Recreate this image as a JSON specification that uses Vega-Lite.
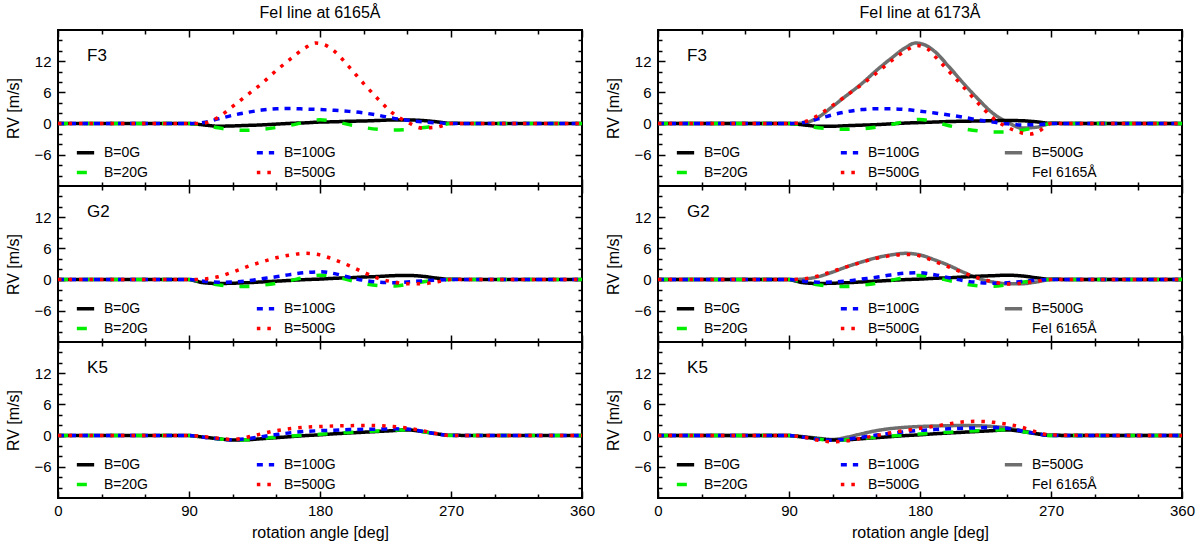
{
  "$schema": "https://vega.github.io/schema/vega-lite/v6.json",
  "description": "RV vs rotation angle for FeI 6165 and 6173 lines, F3/G2/K5 stars",
  "padding": {"left": 4, "top": 4, "right": 2, "bottom": 2},
  "datasets": {
    "rv": [
      {"star":"F3","line":"6165","b":"0G","deg":0,"rv":0},{"star":"F3","line":"6165","b":"0G","deg":90,"rv":0},{"star":"F3","line":"6165","b":"0G","deg":100,"rv":-0.25},{"star":"F3","line":"6165","b":"0G","deg":110,"rv":-0.5},{"star":"F3","line":"6165","b":"0G","deg":120,"rv":-0.45},{"star":"F3","line":"6165","b":"0G","deg":130,"rv":-0.35},{"star":"F3","line":"6165","b":"0G","deg":140,"rv":-0.25},{"star":"F3","line":"6165","b":"0G","deg":150,"rv":-0.1},{"star":"F3","line":"6165","b":"0G","deg":160,"rv":0.05},{"star":"F3","line":"6165","b":"0G","deg":170,"rv":0.15},{"star":"F3","line":"6165","b":"0G","deg":180,"rv":0.3},{"star":"F3","line":"6165","b":"0G","deg":190,"rv":0.35},{"star":"F3","line":"6165","b":"0G","deg":200,"rv":0.45},{"star":"F3","line":"6165","b":"0G","deg":210,"rv":0.5},{"star":"F3","line":"6165","b":"0G","deg":220,"rv":0.6},{"star":"F3","line":"6165","b":"0G","deg":230,"rv":0.7},{"star":"F3","line":"6165","b":"0G","deg":240,"rv":0.7},{"star":"F3","line":"6165","b":"0G","deg":250,"rv":0.6},{"star":"F3","line":"6165","b":"0G","deg":260,"rv":0.35},{"star":"F3","line":"6165","b":"0G","deg":270,"rv":0.05},{"star":"F3","line":"6165","b":"0G","deg":360,"rv":0},
      {"star":"F3","line":"6165","b":"20G","deg":0,"rv":0},{"star":"F3","line":"6165","b":"20G","deg":90,"rv":0},{"star":"F3","line":"6165","b":"20G","deg":100,"rv":-0.3},{"star":"F3","line":"6165","b":"20G","deg":110,"rv":-0.8},{"star":"F3","line":"6165","b":"20G","deg":120,"rv":-1.2},{"star":"F3","line":"6165","b":"20G","deg":130,"rv":-1.3},{"star":"F3","line":"6165","b":"20G","deg":140,"rv":-1.1},{"star":"F3","line":"6165","b":"20G","deg":150,"rv":-0.75},{"star":"F3","line":"6165","b":"20G","deg":160,"rv":-0.3},{"star":"F3","line":"6165","b":"20G","deg":170,"rv":0.3},{"star":"F3","line":"6165","b":"20G","deg":180,"rv":0.75},{"star":"F3","line":"6165","b":"20G","deg":190,"rv":0.4},{"star":"F3","line":"6165","b":"20G","deg":200,"rv":-0.2},{"star":"F3","line":"6165","b":"20G","deg":210,"rv":-0.75},{"star":"F3","line":"6165","b":"20G","deg":220,"rv":-1.1},{"star":"F3","line":"6165","b":"20G","deg":230,"rv":-1.25},{"star":"F3","line":"6165","b":"20G","deg":240,"rv":-1.15},{"star":"F3","line":"6165","b":"20G","deg":250,"rv":-0.8},{"star":"F3","line":"6165","b":"20G","deg":260,"rv":-0.45},{"star":"F3","line":"6165","b":"20G","deg":270,"rv":0},{"star":"F3","line":"6165","b":"20G","deg":360,"rv":0},
      {"star":"F3","line":"6165","b":"100G","deg":0,"rv":0},{"star":"F3","line":"6165","b":"100G","deg":90,"rv":0},{"star":"F3","line":"6165","b":"100G","deg":100,"rv":0.2},{"star":"F3","line":"6165","b":"100G","deg":110,"rv":0.9},{"star":"F3","line":"6165","b":"100G","deg":120,"rv":1.6},{"star":"F3","line":"6165","b":"100G","deg":130,"rv":2.15},{"star":"F3","line":"6165","b":"100G","deg":140,"rv":2.6},{"star":"F3","line":"6165","b":"100G","deg":150,"rv":2.85},{"star":"F3","line":"6165","b":"100G","deg":160,"rv":2.9},{"star":"F3","line":"6165","b":"100G","deg":170,"rv":2.8},{"star":"F3","line":"6165","b":"100G","deg":180,"rv":2.7},{"star":"F3","line":"6165","b":"100G","deg":190,"rv":2.55},{"star":"F3","line":"6165","b":"100G","deg":200,"rv":2.35},{"star":"F3","line":"6165","b":"100G","deg":210,"rv":2.05},{"star":"F3","line":"6165","b":"100G","deg":220,"rv":1.6},{"star":"F3","line":"6165","b":"100G","deg":230,"rv":1.05},{"star":"F3","line":"6165","b":"100G","deg":240,"rv":0.65},{"star":"F3","line":"6165","b":"100G","deg":250,"rv":0.35},{"star":"F3","line":"6165","b":"100G","deg":260,"rv":0.15},{"star":"F3","line":"6165","b":"100G","deg":270,"rv":0},{"star":"F3","line":"6165","b":"100G","deg":360,"rv":0},
      {"star":"F3","line":"6165","b":"500G","deg":0,"rv":0},{"star":"F3","line":"6165","b":"500G","deg":90,"rv":0},{"star":"F3","line":"6165","b":"500G","deg":100,"rv":0.1},{"star":"F3","line":"6165","b":"500G","deg":110,"rv":1.2},{"star":"F3","line":"6165","b":"500G","deg":120,"rv":3.3},{"star":"F3","line":"6165","b":"500G","deg":130,"rv":5.5},{"star":"F3","line":"6165","b":"500G","deg":140,"rv":7.7},{"star":"F3","line":"6165","b":"500G","deg":150,"rv":10.2},{"star":"F3","line":"6165","b":"500G","deg":160,"rv":12.5},{"star":"F3","line":"6165","b":"500G","deg":170,"rv":14.6},{"star":"F3","line":"6165","b":"500G","deg":177,"rv":15.5},{"star":"F3","line":"6165","b":"500G","deg":185,"rv":14.9},{"star":"F3","line":"6165","b":"500G","deg":190,"rv":13.9},{"star":"F3","line":"6165","b":"500G","deg":200,"rv":10.9},{"star":"F3","line":"6165","b":"500G","deg":210,"rv":7.7},{"star":"F3","line":"6165","b":"500G","deg":220,"rv":4.7},{"star":"F3","line":"6165","b":"500G","deg":230,"rv":2.0},{"star":"F3","line":"6165","b":"500G","deg":240,"rv":0.3},{"star":"F3","line":"6165","b":"500G","deg":250,"rv":-0.85},{"star":"F3","line":"6165","b":"500G","deg":260,"rv":-0.7},{"star":"F3","line":"6165","b":"500G","deg":270,"rv":0},{"star":"F3","line":"6165","b":"500G","deg":360,"rv":0},

      {"star":"F3","line":"6173","b":"0G","deg":0,"rv":0},{"star":"F3","line":"6173","b":"0G","deg":90,"rv":0},{"star":"F3","line":"6173","b":"0G","deg":100,"rv":-0.25},{"star":"F3","line":"6173","b":"0G","deg":110,"rv":-0.5},{"star":"F3","line":"6173","b":"0G","deg":120,"rv":-0.5},{"star":"F3","line":"6173","b":"0G","deg":130,"rv":-0.4},{"star":"F3","line":"6173","b":"0G","deg":140,"rv":-0.3},{"star":"F3","line":"6173","b":"0G","deg":150,"rv":-0.2},{"star":"F3","line":"6173","b":"0G","deg":160,"rv":-0.05},{"star":"F3","line":"6173","b":"0G","deg":170,"rv":0.1},{"star":"F3","line":"6173","b":"0G","deg":180,"rv":0.2},{"star":"F3","line":"6173","b":"0G","deg":190,"rv":0.3},{"star":"F3","line":"6173","b":"0G","deg":200,"rv":0.4},{"star":"F3","line":"6173","b":"0G","deg":210,"rv":0.45},{"star":"F3","line":"6173","b":"0G","deg":220,"rv":0.5},{"star":"F3","line":"6173","b":"0G","deg":230,"rv":0.55},{"star":"F3","line":"6173","b":"0G","deg":240,"rv":0.6},{"star":"F3","line":"6173","b":"0G","deg":250,"rv":0.55},{"star":"F3","line":"6173","b":"0G","deg":260,"rv":0.35},{"star":"F3","line":"6173","b":"0G","deg":270,"rv":0.05},{"star":"F3","line":"6173","b":"0G","deg":360,"rv":0},
      {"star":"F3","line":"6173","b":"20G","deg":0,"rv":0},{"star":"F3","line":"6173","b":"20G","deg":90,"rv":0},{"star":"F3","line":"6173","b":"20G","deg":100,"rv":-0.3},{"star":"F3","line":"6173","b":"20G","deg":110,"rv":-0.8},{"star":"F3","line":"6173","b":"20G","deg":120,"rv":-1.0},{"star":"F3","line":"6173","b":"20G","deg":130,"rv":-1.1},{"star":"F3","line":"6173","b":"20G","deg":140,"rv":-1.0},{"star":"F3","line":"6173","b":"20G","deg":150,"rv":-0.7},{"star":"F3","line":"6173","b":"20G","deg":160,"rv":-0.2},{"star":"F3","line":"6173","b":"20G","deg":170,"rv":0.4},{"star":"F3","line":"6173","b":"20G","deg":180,"rv":0.8},{"star":"F3","line":"6173","b":"20G","deg":190,"rv":0.3},{"star":"F3","line":"6173","b":"20G","deg":200,"rv":-0.4},{"star":"F3","line":"6173","b":"20G","deg":210,"rv":-1.0},{"star":"F3","line":"6173","b":"20G","deg":220,"rv":-1.4},{"star":"F3","line":"6173","b":"20G","deg":230,"rv":-1.6},{"star":"F3","line":"6173","b":"20G","deg":240,"rv":-1.6},{"star":"F3","line":"6173","b":"20G","deg":250,"rv":-1.3},{"star":"F3","line":"6173","b":"20G","deg":260,"rv":-0.7},{"star":"F3","line":"6173","b":"20G","deg":270,"rv":0},{"star":"F3","line":"6173","b":"20G","deg":360,"rv":0},
      {"star":"F3","line":"6173","b":"100G","deg":0,"rv":0},{"star":"F3","line":"6173","b":"100G","deg":90,"rv":0},{"star":"F3","line":"6173","b":"100G","deg":100,"rv":0.2},{"star":"F3","line":"6173","b":"100G","deg":110,"rv":0.9},{"star":"F3","line":"6173","b":"100G","deg":120,"rv":1.7},{"star":"F3","line":"6173","b":"100G","deg":130,"rv":2.3},{"star":"F3","line":"6173","b":"100G","deg":140,"rv":2.7},{"star":"F3","line":"6173","b":"100G","deg":150,"rv":2.85},{"star":"F3","line":"6173","b":"100G","deg":160,"rv":2.85},{"star":"F3","line":"6173","b":"100G","deg":170,"rv":2.7},{"star":"F3","line":"6173","b":"100G","deg":180,"rv":2.4},{"star":"F3","line":"6173","b":"100G","deg":190,"rv":2.05},{"star":"F3","line":"6173","b":"100G","deg":200,"rv":1.65},{"star":"F3","line":"6173","b":"100G","deg":210,"rv":1.2},{"star":"F3","line":"6173","b":"100G","deg":220,"rv":0.7},{"star":"F3","line":"6173","b":"100G","deg":230,"rv":0.3},{"star":"F3","line":"6173","b":"100G","deg":240,"rv":-0.05},{"star":"F3","line":"6173","b":"100G","deg":250,"rv":-0.25},{"star":"F3","line":"6173","b":"100G","deg":260,"rv":-0.2},{"star":"F3","line":"6173","b":"100G","deg":270,"rv":0},{"star":"F3","line":"6173","b":"100G","deg":360,"rv":0},
      {"star":"F3","line":"6173","b":"500G","deg":0,"rv":0},{"star":"F3","line":"6173","b":"500G","deg":90,"rv":0},{"star":"F3","line":"6173","b":"500G","deg":100,"rv":0.3},{"star":"F3","line":"6173","b":"500G","deg":110,"rv":1.6},{"star":"F3","line":"6173","b":"500G","deg":120,"rv":3.5},{"star":"F3","line":"6173","b":"500G","deg":130,"rv":5.5},{"star":"F3","line":"6173","b":"500G","deg":140,"rv":7.5},{"star":"F3","line":"6173","b":"500G","deg":150,"rv":9.7},{"star":"F3","line":"6173","b":"500G","deg":160,"rv":12.0},{"star":"F3","line":"6173","b":"500G","deg":170,"rv":14.0},{"star":"F3","line":"6173","b":"500G","deg":178,"rv":15.0},{"star":"F3","line":"6173","b":"500G","deg":185,"rv":14.4},{"star":"F3","line":"6173","b":"500G","deg":190,"rv":13.0},{"star":"F3","line":"6173","b":"500G","deg":200,"rv":10.0},{"star":"F3","line":"6173","b":"500G","deg":210,"rv":7.0},{"star":"F3","line":"6173","b":"500G","deg":220,"rv":3.9},{"star":"F3","line":"6173","b":"500G","deg":230,"rv":1.1},{"star":"F3","line":"6173","b":"500G","deg":240,"rv":-0.7},{"star":"F3","line":"6173","b":"500G","deg":250,"rv":-1.8},{"star":"F3","line":"6173","b":"500G","deg":256,"rv":-2.0},{"star":"F3","line":"6173","b":"500G","deg":262,"rv":-1.4},{"star":"F3","line":"6173","b":"500G","deg":270,"rv":0},{"star":"F3","line":"6173","b":"500G","deg":360,"rv":0},

      {"star":"G2","line":"6165","b":"0G","deg":0,"rv":0},{"star":"G2","line":"6165","b":"0G","deg":90,"rv":0},{"star":"G2","line":"6165","b":"0G","deg":95,"rv":-0.3},{"star":"G2","line":"6165","b":"0G","deg":100,"rv":-0.6},{"star":"G2","line":"6165","b":"0G","deg":110,"rv":-0.75},{"star":"G2","line":"6165","b":"0G","deg":120,"rv":-0.7},{"star":"G2","line":"6165","b":"0G","deg":130,"rv":-0.6},{"star":"G2","line":"6165","b":"0G","deg":140,"rv":-0.45},{"star":"G2","line":"6165","b":"0G","deg":150,"rv":-0.3},{"star":"G2","line":"6165","b":"0G","deg":160,"rv":-0.15},{"star":"G2","line":"6165","b":"0G","deg":170,"rv":0},{"star":"G2","line":"6165","b":"0G","deg":180,"rv":0.1},{"star":"G2","line":"6165","b":"0G","deg":190,"rv":0.25},{"star":"G2","line":"6165","b":"0G","deg":200,"rv":0.35},{"star":"G2","line":"6165","b":"0G","deg":210,"rv":0.5},{"star":"G2","line":"6165","b":"0G","deg":220,"rv":0.6},{"star":"G2","line":"6165","b":"0G","deg":230,"rv":0.75},{"star":"G2","line":"6165","b":"0G","deg":240,"rv":0.8},{"star":"G2","line":"6165","b":"0G","deg":250,"rv":0.65},{"star":"G2","line":"6165","b":"0G","deg":260,"rv":0.3},{"star":"G2","line":"6165","b":"0G","deg":270,"rv":0.05},{"star":"G2","line":"6165","b":"0G","deg":360,"rv":0},
      {"star":"G2","line":"6165","b":"20G","deg":0,"rv":0},{"star":"G2","line":"6165","b":"20G","deg":90,"rv":0},{"star":"G2","line":"6165","b":"20G","deg":100,"rv":-0.5},{"star":"G2","line":"6165","b":"20G","deg":110,"rv":-1.0},{"star":"G2","line":"6165","b":"20G","deg":120,"rv":-1.3},{"star":"G2","line":"6165","b":"20G","deg":130,"rv":-1.35},{"star":"G2","line":"6165","b":"20G","deg":140,"rv":-1.1},{"star":"G2","line":"6165","b":"20G","deg":150,"rv":-0.7},{"star":"G2","line":"6165","b":"20G","deg":160,"rv":-0.15},{"star":"G2","line":"6165","b":"20G","deg":170,"rv":0.45},{"star":"G2","line":"6165","b":"20G","deg":180,"rv":0.85},{"star":"G2","line":"6165","b":"20G","deg":190,"rv":0.55},{"star":"G2","line":"6165","b":"20G","deg":200,"rv":-0.1},{"star":"G2","line":"6165","b":"20G","deg":210,"rv":-0.75},{"star":"G2","line":"6165","b":"20G","deg":220,"rv":-1.15},{"star":"G2","line":"6165","b":"20G","deg":230,"rv":-1.25},{"star":"G2","line":"6165","b":"20G","deg":240,"rv":-0.9},{"star":"G2","line":"6165","b":"20G","deg":250,"rv":-0.45},{"star":"G2","line":"6165","b":"20G","deg":260,"rv":-0.15},{"star":"G2","line":"6165","b":"20G","deg":270,"rv":0},{"star":"G2","line":"6165","b":"20G","deg":360,"rv":0},
      {"star":"G2","line":"6165","b":"100G","deg":0,"rv":0},{"star":"G2","line":"6165","b":"100G","deg":90,"rv":0},{"star":"G2","line":"6165","b":"100G","deg":100,"rv":-0.3},{"star":"G2","line":"6165","b":"100G","deg":110,"rv":-0.5},{"star":"G2","line":"6165","b":"100G","deg":120,"rv":-0.45},{"star":"G2","line":"6165","b":"100G","deg":130,"rv":-0.25},{"star":"G2","line":"6165","b":"100G","deg":140,"rv":0.15},{"star":"G2","line":"6165","b":"100G","deg":150,"rv":0.55},{"star":"G2","line":"6165","b":"100G","deg":160,"rv":1.0},{"star":"G2","line":"6165","b":"100G","deg":170,"rv":1.35},{"star":"G2","line":"6165","b":"100G","deg":180,"rv":1.5},{"star":"G2","line":"6165","b":"100G","deg":190,"rv":1.15},{"star":"G2","line":"6165","b":"100G","deg":200,"rv":0.45},{"star":"G2","line":"6165","b":"100G","deg":210,"rv":-0.15},{"star":"G2","line":"6165","b":"100G","deg":220,"rv":-0.5},{"star":"G2","line":"6165","b":"100G","deg":230,"rv":-0.6},{"star":"G2","line":"6165","b":"100G","deg":240,"rv":-0.45},{"star":"G2","line":"6165","b":"100G","deg":250,"rv":-0.25},{"star":"G2","line":"6165","b":"100G","deg":260,"rv":-0.1},{"star":"G2","line":"6165","b":"100G","deg":270,"rv":0},{"star":"G2","line":"6165","b":"100G","deg":360,"rv":0},
      {"star":"G2","line":"6165","b":"500G","deg":0,"rv":0},{"star":"G2","line":"6165","b":"500G","deg":90,"rv":0},{"star":"G2","line":"6165","b":"500G","deg":100,"rv":0.1},{"star":"G2","line":"6165","b":"500G","deg":110,"rv":0.55},{"star":"G2","line":"6165","b":"500G","deg":120,"rv":1.45},{"star":"G2","line":"6165","b":"500G","deg":130,"rv":2.5},{"star":"G2","line":"6165","b":"500G","deg":140,"rv":3.4},{"star":"G2","line":"6165","b":"500G","deg":150,"rv":4.2},{"star":"G2","line":"6165","b":"500G","deg":160,"rv":4.75},{"star":"G2","line":"6165","b":"500G","deg":170,"rv":5.05},{"star":"G2","line":"6165","b":"500G","deg":180,"rv":4.75},{"star":"G2","line":"6165","b":"500G","deg":190,"rv":3.8},{"star":"G2","line":"6165","b":"500G","deg":200,"rv":2.7},{"star":"G2","line":"6165","b":"500G","deg":210,"rv":1.4},{"star":"G2","line":"6165","b":"500G","deg":220,"rv":0.25},{"star":"G2","line":"6165","b":"500G","deg":230,"rv":-0.45},{"star":"G2","line":"6165","b":"500G","deg":240,"rv":-0.8},{"star":"G2","line":"6165","b":"500G","deg":250,"rv":-0.8},{"star":"G2","line":"6165","b":"500G","deg":260,"rv":-0.45},{"star":"G2","line":"6165","b":"500G","deg":270,"rv":0},{"star":"G2","line":"6165","b":"500G","deg":360,"rv":0},

      {"star":"G2","line":"6173","b":"0G","deg":0,"rv":0},{"star":"G2","line":"6173","b":"0G","deg":90,"rv":0},{"star":"G2","line":"6173","b":"0G","deg":95,"rv":-0.3},{"star":"G2","line":"6173","b":"0G","deg":100,"rv":-0.6},{"star":"G2","line":"6173","b":"0G","deg":110,"rv":-0.75},{"star":"G2","line":"6173","b":"0G","deg":120,"rv":-0.7},{"star":"G2","line":"6173","b":"0G","deg":130,"rv":-0.6},{"star":"G2","line":"6173","b":"0G","deg":140,"rv":-0.45},{"star":"G2","line":"6173","b":"0G","deg":150,"rv":-0.3},{"star":"G2","line":"6173","b":"0G","deg":160,"rv":-0.15},{"star":"G2","line":"6173","b":"0G","deg":170,"rv":0},{"star":"G2","line":"6173","b":"0G","deg":180,"rv":0.1},{"star":"G2","line":"6173","b":"0G","deg":190,"rv":0.25},{"star":"G2","line":"6173","b":"0G","deg":200,"rv":0.35},{"star":"G2","line":"6173","b":"0G","deg":210,"rv":0.5},{"star":"G2","line":"6173","b":"0G","deg":220,"rv":0.65},{"star":"G2","line":"6173","b":"0G","deg":230,"rv":0.75},{"star":"G2","line":"6173","b":"0G","deg":240,"rv":0.85},{"star":"G2","line":"6173","b":"0G","deg":250,"rv":0.7},{"star":"G2","line":"6173","b":"0G","deg":260,"rv":0.35},{"star":"G2","line":"6173","b":"0G","deg":270,"rv":0.05},{"star":"G2","line":"6173","b":"0G","deg":360,"rv":0},
      {"star":"G2","line":"6173","b":"20G","deg":0,"rv":0},{"star":"G2","line":"6173","b":"20G","deg":90,"rv":0},{"star":"G2","line":"6173","b":"20G","deg":100,"rv":-0.5},{"star":"G2","line":"6173","b":"20G","deg":110,"rv":-1.0},{"star":"G2","line":"6173","b":"20G","deg":120,"rv":-1.3},{"star":"G2","line":"6173","b":"20G","deg":130,"rv":-1.35},{"star":"G2","line":"6173","b":"20G","deg":140,"rv":-1.1},{"star":"G2","line":"6173","b":"20G","deg":150,"rv":-0.7},{"star":"G2","line":"6173","b":"20G","deg":160,"rv":-0.15},{"star":"G2","line":"6173","b":"20G","deg":170,"rv":0.45},{"star":"G2","line":"6173","b":"20G","deg":180,"rv":0.8},{"star":"G2","line":"6173","b":"20G","deg":190,"rv":0.45},{"star":"G2","line":"6173","b":"20G","deg":200,"rv":-0.2},{"star":"G2","line":"6173","b":"20G","deg":210,"rv":-0.8},{"star":"G2","line":"6173","b":"20G","deg":220,"rv":-1.2},{"star":"G2","line":"6173","b":"20G","deg":230,"rv":-1.3},{"star":"G2","line":"6173","b":"20G","deg":240,"rv":-1.0},{"star":"G2","line":"6173","b":"20G","deg":250,"rv":-0.5},{"star":"G2","line":"6173","b":"20G","deg":260,"rv":-0.15},{"star":"G2","line":"6173","b":"20G","deg":270,"rv":0},{"star":"G2","line":"6173","b":"20G","deg":360,"rv":0},
      {"star":"G2","line":"6173","b":"100G","deg":0,"rv":0},{"star":"G2","line":"6173","b":"100G","deg":90,"rv":0},{"star":"G2","line":"6173","b":"100G","deg":100,"rv":-0.3},{"star":"G2","line":"6173","b":"100G","deg":110,"rv":-0.5},{"star":"G2","line":"6173","b":"100G","deg":120,"rv":-0.45},{"star":"G2","line":"6173","b":"100G","deg":130,"rv":-0.25},{"star":"G2","line":"6173","b":"100G","deg":140,"rv":0.1},{"star":"G2","line":"6173","b":"100G","deg":150,"rv":0.45},{"star":"G2","line":"6173","b":"100G","deg":160,"rv":0.9},{"star":"G2","line":"6173","b":"100G","deg":170,"rv":1.25},{"star":"G2","line":"6173","b":"100G","deg":180,"rv":1.3},{"star":"G2","line":"6173","b":"100G","deg":190,"rv":0.95},{"star":"G2","line":"6173","b":"100G","deg":200,"rv":0.35},{"star":"G2","line":"6173","b":"100G","deg":210,"rv":-0.2},{"star":"G2","line":"6173","b":"100G","deg":220,"rv":-0.55},{"star":"G2","line":"6173","b":"100G","deg":230,"rv":-0.7},{"star":"G2","line":"6173","b":"100G","deg":240,"rv":-0.6},{"star":"G2","line":"6173","b":"100G","deg":250,"rv":-0.35},{"star":"G2","line":"6173","b":"100G","deg":260,"rv":-0.1},{"star":"G2","line":"6173","b":"100G","deg":270,"rv":0},{"star":"G2","line":"6173","b":"100G","deg":360,"rv":0},
      {"star":"G2","line":"6173","b":"500G","deg":0,"rv":0},{"star":"G2","line":"6173","b":"500G","deg":90,"rv":0},{"star":"G2","line":"6173","b":"500G","deg":100,"rv":0.15},{"star":"G2","line":"6173","b":"500G","deg":110,"rv":0.7},{"star":"G2","line":"6173","b":"500G","deg":120,"rv":1.6},{"star":"G2","line":"6173","b":"500G","deg":130,"rv":2.5},{"star":"G2","line":"6173","b":"500G","deg":140,"rv":3.35},{"star":"G2","line":"6173","b":"500G","deg":150,"rv":4.1},{"star":"G2","line":"6173","b":"500G","deg":160,"rv":4.6},{"star":"G2","line":"6173","b":"500G","deg":170,"rv":4.85},{"star":"G2","line":"6173","b":"500G","deg":180,"rv":4.55},{"star":"G2","line":"6173","b":"500G","deg":190,"rv":3.5},{"star":"G2","line":"6173","b":"500G","deg":200,"rv":2.4},{"star":"G2","line":"6173","b":"500G","deg":210,"rv":1.3},{"star":"G2","line":"6173","b":"500G","deg":220,"rv":0.3},{"star":"G2","line":"6173","b":"500G","deg":230,"rv":-0.4},{"star":"G2","line":"6173","b":"500G","deg":240,"rv":-0.85},{"star":"G2","line":"6173","b":"500G","deg":250,"rv":-0.7},{"star":"G2","line":"6173","b":"500G","deg":260,"rv":-0.3},{"star":"G2","line":"6173","b":"500G","deg":270,"rv":0},{"star":"G2","line":"6173","b":"500G","deg":360,"rv":0},

      {"star":"K5","line":"6165","b":"0G","deg":0,"rv":0},{"star":"K5","line":"6165","b":"0G","deg":90,"rv":0},{"star":"K5","line":"6165","b":"0G","deg":100,"rv":-0.3},{"star":"K5","line":"6165","b":"0G","deg":110,"rv":-0.6},{"star":"K5","line":"6165","b":"0G","deg":120,"rv":-0.85},{"star":"K5","line":"6165","b":"0G","deg":130,"rv":-0.8},{"star":"K5","line":"6165","b":"0G","deg":140,"rv":-0.6},{"star":"K5","line":"6165","b":"0G","deg":150,"rv":-0.4},{"star":"K5","line":"6165","b":"0G","deg":160,"rv":-0.2},{"star":"K5","line":"6165","b":"0G","deg":170,"rv":0},{"star":"K5","line":"6165","b":"0G","deg":180,"rv":0.15},{"star":"K5","line":"6165","b":"0G","deg":190,"rv":0.35},{"star":"K5","line":"6165","b":"0G","deg":200,"rv":0.5},{"star":"K5","line":"6165","b":"0G","deg":210,"rv":0.65},{"star":"K5","line":"6165","b":"0G","deg":220,"rv":0.8},{"star":"K5","line":"6165","b":"0G","deg":230,"rv":0.95},{"star":"K5","line":"6165","b":"0G","deg":240,"rv":1.1},{"star":"K5","line":"6165","b":"0G","deg":250,"rv":0.8},{"star":"K5","line":"6165","b":"0G","deg":260,"rv":0.35},{"star":"K5","line":"6165","b":"0G","deg":270,"rv":0.05},{"star":"K5","line":"6165","b":"0G","deg":360,"rv":0},
      {"star":"K5","line":"6165","b":"20G","deg":0,"rv":0},{"star":"K5","line":"6165","b":"20G","deg":90,"rv":0},{"star":"K5","line":"6165","b":"20G","deg":100,"rv":-0.3},{"star":"K5","line":"6165","b":"20G","deg":110,"rv":-0.6},{"star":"K5","line":"6165","b":"20G","deg":120,"rv":-0.85},{"star":"K5","line":"6165","b":"20G","deg":130,"rv":-0.8},{"star":"K5","line":"6165","b":"20G","deg":140,"rv":-0.55},{"star":"K5","line":"6165","b":"20G","deg":150,"rv":-0.3},{"star":"K5","line":"6165","b":"20G","deg":160,"rv":-0.1},{"star":"K5","line":"6165","b":"20G","deg":170,"rv":0.1},{"star":"K5","line":"6165","b":"20G","deg":180,"rv":0.25},{"star":"K5","line":"6165","b":"20G","deg":190,"rv":0.45},{"star":"K5","line":"6165","b":"20G","deg":200,"rv":0.6},{"star":"K5","line":"6165","b":"20G","deg":210,"rv":0.75},{"star":"K5","line":"6165","b":"20G","deg":220,"rv":0.9},{"star":"K5","line":"6165","b":"20G","deg":230,"rv":1.0},{"star":"K5","line":"6165","b":"20G","deg":240,"rv":1.15},{"star":"K5","line":"6165","b":"20G","deg":250,"rv":0.8},{"star":"K5","line":"6165","b":"20G","deg":260,"rv":0.35},{"star":"K5","line":"6165","b":"20G","deg":270,"rv":0},{"star":"K5","line":"6165","b":"20G","deg":360,"rv":0},
      {"star":"K5","line":"6165","b":"100G","deg":0,"rv":0},{"star":"K5","line":"6165","b":"100G","deg":90,"rv":0},{"star":"K5","line":"6165","b":"100G","deg":100,"rv":-0.3},{"star":"K5","line":"6165","b":"100G","deg":110,"rv":-0.6},{"star":"K5","line":"6165","b":"100G","deg":120,"rv":-0.8},{"star":"K5","line":"6165","b":"100G","deg":130,"rv":-0.6},{"star":"K5","line":"6165","b":"100G","deg":140,"rv":-0.2},{"star":"K5","line":"6165","b":"100G","deg":150,"rv":0.2},{"star":"K5","line":"6165","b":"100G","deg":160,"rv":0.55},{"star":"K5","line":"6165","b":"100G","deg":170,"rv":0.8},{"star":"K5","line":"6165","b":"100G","deg":180,"rv":0.95},{"star":"K5","line":"6165","b":"100G","deg":190,"rv":1.05},{"star":"K5","line":"6165","b":"100G","deg":200,"rv":1.15},{"star":"K5","line":"6165","b":"100G","deg":210,"rv":1.2},{"star":"K5","line":"6165","b":"100G","deg":220,"rv":1.25},{"star":"K5","line":"6165","b":"100G","deg":230,"rv":1.3},{"star":"K5","line":"6165","b":"100G","deg":240,"rv":1.25},{"star":"K5","line":"6165","b":"100G","deg":250,"rv":0.85},{"star":"K5","line":"6165","b":"100G","deg":260,"rv":0.35},{"star":"K5","line":"6165","b":"100G","deg":270,"rv":0},{"star":"K5","line":"6165","b":"100G","deg":360,"rv":0},
      {"star":"K5","line":"6165","b":"500G","deg":0,"rv":0},{"star":"K5","line":"6165","b":"500G","deg":90,"rv":0},{"star":"K5","line":"6165","b":"500G","deg":100,"rv":-0.2},{"star":"K5","line":"6165","b":"500G","deg":110,"rv":-0.5},{"star":"K5","line":"6165","b":"500G","deg":120,"rv":-0.75},{"star":"K5","line":"6165","b":"500G","deg":130,"rv":-0.3},{"star":"K5","line":"6165","b":"500G","deg":140,"rv":0.35},{"star":"K5","line":"6165","b":"500G","deg":150,"rv":0.95},{"star":"K5","line":"6165","b":"500G","deg":160,"rv":1.35},{"star":"K5","line":"6165","b":"500G","deg":170,"rv":1.6},{"star":"K5","line":"6165","b":"500G","deg":180,"rv":1.75},{"star":"K5","line":"6165","b":"500G","deg":190,"rv":1.85},{"star":"K5","line":"6165","b":"500G","deg":200,"rv":1.9},{"star":"K5","line":"6165","b":"500G","deg":210,"rv":1.95},{"star":"K5","line":"6165","b":"500G","deg":220,"rv":1.9},{"star":"K5","line":"6165","b":"500G","deg":230,"rv":1.75},{"star":"K5","line":"6165","b":"500G","deg":240,"rv":1.45},{"star":"K5","line":"6165","b":"500G","deg":250,"rv":0.95},{"star":"K5","line":"6165","b":"500G","deg":260,"rv":0.4},{"star":"K5","line":"6165","b":"500G","deg":270,"rv":0},{"star":"K5","line":"6165","b":"500G","deg":360,"rv":0},

      {"star":"K5","line":"6173","b":"0G","deg":0,"rv":0},{"star":"K5","line":"6173","b":"0G","deg":90,"rv":0},{"star":"K5","line":"6173","b":"0G","deg":100,"rv":-0.3},{"star":"K5","line":"6173","b":"0G","deg":110,"rv":-0.6},{"star":"K5","line":"6173","b":"0G","deg":120,"rv":-0.85},{"star":"K5","line":"6173","b":"0G","deg":130,"rv":-0.8},{"star":"K5","line":"6173","b":"0G","deg":140,"rv":-0.6},{"star":"K5","line":"6173","b":"0G","deg":150,"rv":-0.4},{"star":"K5","line":"6173","b":"0G","deg":160,"rv":-0.2},{"star":"K5","line":"6173","b":"0G","deg":170,"rv":0},{"star":"K5","line":"6173","b":"0G","deg":180,"rv":0.15},{"star":"K5","line":"6173","b":"0G","deg":190,"rv":0.35},{"star":"K5","line":"6173","b":"0G","deg":200,"rv":0.5},{"star":"K5","line":"6173","b":"0G","deg":210,"rv":0.65},{"star":"K5","line":"6173","b":"0G","deg":220,"rv":0.8},{"star":"K5","line":"6173","b":"0G","deg":230,"rv":0.95},{"star":"K5","line":"6173","b":"0G","deg":240,"rv":1.1},{"star":"K5","line":"6173","b":"0G","deg":250,"rv":0.8},{"star":"K5","line":"6173","b":"0G","deg":260,"rv":0.35},{"star":"K5","line":"6173","b":"0G","deg":270,"rv":0.05},{"star":"K5","line":"6173","b":"0G","deg":360,"rv":0},
      {"star":"K5","line":"6173","b":"20G","deg":0,"rv":0},{"star":"K5","line":"6173","b":"20G","deg":90,"rv":0},{"star":"K5","line":"6173","b":"20G","deg":100,"rv":-0.3},{"star":"K5","line":"6173","b":"20G","deg":110,"rv":-0.65},{"star":"K5","line":"6173","b":"20G","deg":120,"rv":-0.9},{"star":"K5","line":"6173","b":"20G","deg":130,"rv":-0.8},{"star":"K5","line":"6173","b":"20G","deg":140,"rv":-0.55},{"star":"K5","line":"6173","b":"20G","deg":150,"rv":-0.3},{"star":"K5","line":"6173","b":"20G","deg":160,"rv":-0.1},{"star":"K5","line":"6173","b":"20G","deg":170,"rv":0.1},{"star":"K5","line":"6173","b":"20G","deg":180,"rv":0.3},{"star":"K5","line":"6173","b":"20G","deg":190,"rv":0.5},{"star":"K5","line":"6173","b":"20G","deg":200,"rv":0.65},{"star":"K5","line":"6173","b":"20G","deg":210,"rv":0.8},{"star":"K5","line":"6173","b":"20G","deg":220,"rv":0.95},{"star":"K5","line":"6173","b":"20G","deg":230,"rv":1.05},{"star":"K5","line":"6173","b":"20G","deg":240,"rv":1.15},{"star":"K5","line":"6173","b":"20G","deg":250,"rv":0.8},{"star":"K5","line":"6173","b":"20G","deg":260,"rv":0.35},{"star":"K5","line":"6173","b":"20G","deg":270,"rv":0},{"star":"K5","line":"6173","b":"20G","deg":360,"rv":0},
      {"star":"K5","line":"6173","b":"100G","deg":0,"rv":0},{"star":"K5","line":"6173","b":"100G","deg":90,"rv":0},{"star":"K5","line":"6173","b":"100G","deg":100,"rv":-0.3},{"star":"K5","line":"6173","b":"100G","deg":110,"rv":-0.7},{"star":"K5","line":"6173","b":"100G","deg":120,"rv":-0.9},{"star":"K5","line":"6173","b":"100G","deg":130,"rv":-0.7},{"star":"K5","line":"6173","b":"100G","deg":140,"rv":-0.3},{"star":"K5","line":"6173","b":"100G","deg":150,"rv":0.1},{"star":"K5","line":"6173","b":"100G","deg":160,"rv":0.45},{"star":"K5","line":"6173","b":"100G","deg":170,"rv":0.75},{"star":"K5","line":"6173","b":"100G","deg":180,"rv":1.0},{"star":"K5","line":"6173","b":"100G","deg":190,"rv":1.15},{"star":"K5","line":"6173","b":"100G","deg":200,"rv":1.3},{"star":"K5","line":"6173","b":"100G","deg":210,"rv":1.4},{"star":"K5","line":"6173","b":"100G","deg":220,"rv":1.5},{"star":"K5","line":"6173","b":"100G","deg":230,"rv":1.55},{"star":"K5","line":"6173","b":"100G","deg":240,"rv":1.4},{"star":"K5","line":"6173","b":"100G","deg":250,"rv":0.9},{"star":"K5","line":"6173","b":"100G","deg":260,"rv":0.4},{"star":"K5","line":"6173","b":"100G","deg":270,"rv":0},{"star":"K5","line":"6173","b":"100G","deg":360,"rv":0},
      {"star":"K5","line":"6173","b":"500G","deg":0,"rv":0},{"star":"K5","line":"6173","b":"500G","deg":90,"rv":0},{"star":"K5","line":"6173","b":"500G","deg":100,"rv":-0.3},{"star":"K5","line":"6173","b":"500G","deg":110,"rv":-0.9},{"star":"K5","line":"6173","b":"500G","deg":120,"rv":-1.2},{"star":"K5","line":"6173","b":"500G","deg":130,"rv":-1.0},{"star":"K5","line":"6173","b":"500G","deg":140,"rv":-0.5},{"star":"K5","line":"6173","b":"500G","deg":150,"rv":0},{"star":"K5","line":"6173","b":"500G","deg":160,"rv":0.55},{"star":"K5","line":"6173","b":"500G","deg":170,"rv":1.0},{"star":"K5","line":"6173","b":"500G","deg":180,"rv":1.4},{"star":"K5","line":"6173","b":"500G","deg":190,"rv":1.8},{"star":"K5","line":"6173","b":"500G","deg":200,"rv":2.25},{"star":"K5","line":"6173","b":"500G","deg":210,"rv":2.65},{"star":"K5","line":"6173","b":"500G","deg":218,"rv":2.75},{"star":"K5","line":"6173","b":"500G","deg":225,"rv":2.7},{"star":"K5","line":"6173","b":"500G","deg":232,"rv":2.5},{"star":"K5","line":"6173","b":"500G","deg":240,"rv":2.2},{"star":"K5","line":"6173","b":"500G","deg":250,"rv":1.6},{"star":"K5","line":"6173","b":"500G","deg":260,"rv":0.7},{"star":"K5","line":"6173","b":"500G","deg":270,"rv":0.1},{"star":"K5","line":"6173","b":"500G","deg":360,"rv":0}
    ]
  },
  "data": {"name": "rv"},
  "columns": 2,
  "bounds": "flush",
  "spacing": {"row": 0, "column": 76},
  "concat": [
    {
      "width": 524, "height": 156,
      "title": {"text": "FeI line at 6165Å"},
      "layer": [
        {"transform": [{"filter": "datum.star == 'F3' && datum.line == '6165' && datum.b == '0G'"}], "mark": {"type": "line", "interpolate": "monotone"},
         "encoding": {
          "x": {"field": "deg", "type": "quantitative", "scale": {"domain": [0, 360], "nice": false}, "axis": {"orient": "bottom", "values": [0, 90, 180, 270, 360], "tickSize": -7, "labels": false, "title": null}},
          "y": {"field": "rv", "type": "quantitative", "scale": {"domain": [-12, 18], "nice": false, "zero": false}, "axis": {"orient": "left", "values": [-6, 0, 6, 12], "tickSize": -7, "labelPadding": 14, "title": "RV [m/s]", "titlePadding": 12}},
          "color": {"field": "b", "type": "nominal", "scale": {"domain": ["0G", "20G", "100G", "500G"], "range": ["#000000", "#00ee00", "#0000ff", "#ff0000"]},
            "legend": {"title": null, "orient": "none", "legendX": 17, "legendY": 112, "columns": 2, "gridAlign": "all", "columnPadding": 93, "rowPadding": 2, "padding": 0, "symbolType": "stroke", "symbolSize": 300, "labelFontSize": 14, "labelOffset": 8, "labelExpr": "'B=' + datum.label"}},
          "strokeDash": {"field": "b", "type": "nominal", "scale": {"domain": ["0G", "20G", "100G", "500G"], "range": [[1, 0], [10, 16], [6, 6], [3.5, 7]]}, "legend": {"title": null}},
          "strokeWidth": {"field": "b", "type": "nominal", "scale": {"domain": ["0G", "20G", "100G", "500G"], "range": [3.5, 3.5, 3.5, 4]}, "legend": {"title": null}}
         }},
        {"transform": [{"filter": "datum.star == 'F3' && datum.line == '6165' && datum.b == '20G'"}], "mark": {"type": "line", "interpolate": "monotone"},
         "encoding": {
          "x": {"field": "deg", "type": "quantitative", "axis": {"orient": "top", "values": [0, 90, 180, 270, 360], "tickSize": -7, "labels": false, "title": null}},
          "y": {"field": "rv", "type": "quantitative", "axis": {"orient": "right", "values": [-6, 0, 6, 12], "tickSize": -7, "labels": false, "title": null}},
          "color": {"field": "b", "type": "nominal"}, "strokeDash": {"field": "b", "type": "nominal"}, "strokeWidth": {"field": "b", "type": "nominal"}
         }},
        {"transform": [{"filter": "datum.star == 'F3' && datum.line == '6165' && datum.b == '100G'"}], "mark": {"type": "line", "interpolate": "monotone"},
         "encoding": {
          "x": {"field": "deg", "type": "quantitative", "axis": {"orient": "bottom", "values": [30, 60, 120, 150, 210, 240, 300, 330], "tickSize": -4, "labels": false, "title": null}},
          "y": {"field": "rv", "type": "quantitative", "axis": {"orient": "left", "values": [-10, -8, -4, -2, 2, 4, 8, 10, 14, 16], "tickSize": -4, "labels": false, "title": null}},
          "color": {"field": "b", "type": "nominal"}, "strokeDash": {"field": "b", "type": "nominal"}, "strokeWidth": {"field": "b", "type": "nominal"}
         }},
        {"transform": [{"filter": "datum.star == 'F3' && datum.line == '6165' && datum.b == '500G'"}], "mark": {"type": "line", "interpolate": "monotone"},
         "encoding": {
          "x": {"field": "deg", "type": "quantitative", "axis": {"orient": "top", "values": [30, 60, 120, 150, 210, 240, 300, 330], "tickSize": -4, "labels": false, "title": null}},
          "y": {"field": "rv", "type": "quantitative", "axis": {"orient": "right", "values": [-10, -8, -4, -2, 2, 4, 8, 10, 14, 16], "tickSize": -4, "labels": false, "title": null}},
          "color": {"field": "b", "type": "nominal"}, "strokeDash": {"field": "b", "type": "nominal"}, "strokeWidth": {"field": "b", "type": "nominal"}
         }},
        {"transform": [{"filter": "datum.star == 'F3' && datum.line == '6165' && datum.b == '0G' && datum.deg == 0"}], "mark": {"type": "text", "align": "left", "baseline": "middle", "fontSize": 17},
         "encoding": {"x": {"datum": 20, "type": "quantitative", "axis": null}, "y": {"datum": 13, "type": "quantitative", "axis": null}, "text": {"field": "star"}}}
      ],
      "resolve": {"axis": {"x": "independent", "y": "independent"}}
    },
    {
      "width": 524, "height": 156,
      "title": {"text": "FeI line at 6173Å"},
      "layer": [
        {"transform": [{"filter": "datum.star == 'F3' && datum.line == '6165' && datum.b == '500G'"}], "mark": {"type": "line", "interpolate": "monotone"},
         "encoding": {
          "x": {"field": "deg", "type": "quantitative", "scale": {"domain": [0, 360], "nice": false}, "axis": null},
          "y": {"field": "rv", "type": "quantitative", "scale": {"domain": [-12, 18], "nice": false, "zero": false}, "axis": null},
          "color": {"datum": "500G_6165", "type": "nominal", "scale": {"domain": ["0G", "20G", "100G", "500G", "500G_6165", "note"], "range": ["#000000", "#00ee00", "#0000ff", "#ff0000", "#6e6e6e", "transparent"]},
            "legend": {"title": null, "orient": "none", "legendX": 17, "legendY": 112, "columns": 3, "gridAlign": "all", "columnPadding": 64, "rowPadding": 2, "padding": 0, "symbolType": "stroke", "symbolSize": 300, "labelFontSize": 14, "labelOffset": 8, "labelExpr": "datum.label == 'note' ? 'FeI 6165Å' : 'B=' + replace(datum.label, '_6165', '')"}},
          "strokeDash": {"datum": "500G_6165", "type": "nominal", "scale": {"domain": ["0G", "20G", "100G", "500G", "500G_6165", "note"], "range": [[1, 0], [10, 16], [6, 6], [3.5, 7], [1, 0], [1, 0]]}, "legend": {"title": null}},
          "strokeWidth": {"datum": "500G_6165", "type": "nominal", "scale": {"domain": ["0G", "20G", "100G", "500G", "500G_6165", "note"], "range": [3.5, 3.5, 3.5, 4, 2, 0]}, "legend": {"title": null}}
         }},
        {"transform": [{"filter": "datum.star == 'F3' && datum.line == '6173' && datum.b == '0G'"}], "mark": {"type": "line", "interpolate": "monotone"},
         "encoding": {
          "x": {"field": "deg", "type": "quantitative", "axis": {"orient": "bottom", "values": [0, 90, 180, 270, 360], "tickSize": -7, "labels": false, "title": null}},
          "y": {"field": "rv", "type": "quantitative", "axis": {"orient": "left", "values": [-6, 0, 6, 12], "tickSize": -7, "labelPadding": 14, "title": "RV [m/s]", "titlePadding": 12}},
          "color": {"field": "b", "type": "nominal", "legend": {"title": null}}, "strokeDash": {"field": "b", "type": "nominal", "legend": {"title": null}}, "strokeWidth": {"field": "b", "type": "nominal", "legend": {"title": null}}
         }},
        {"transform": [{"filter": "datum.star == 'F3' && datum.line == '6173' && datum.b == '20G'"}], "mark": {"type": "line", "interpolate": "monotone"},
         "encoding": {
          "x": {"field": "deg", "type": "quantitative", "axis": {"orient": "top", "values": [0, 90, 180, 270, 360], "tickSize": -7, "labels": false, "title": null}},
          "y": {"field": "rv", "type": "quantitative", "axis": {"orient": "right", "values": [-6, 0, 6, 12], "tickSize": -7, "labels": false, "title": null}},
          "color": {"field": "b", "type": "nominal"}, "strokeDash": {"field": "b", "type": "nominal"}, "strokeWidth": {"field": "b", "type": "nominal"}
         }},
        {"transform": [{"filter": "datum.star == 'F3' && datum.line == '6173' && datum.b == '100G'"}], "mark": {"type": "line", "interpolate": "monotone"},
         "encoding": {
          "x": {"field": "deg", "type": "quantitative", "axis": {"orient": "bottom", "values": [30, 60, 120, 150, 210, 240, 300, 330], "tickSize": -4, "labels": false, "title": null}},
          "y": {"field": "rv", "type": "quantitative", "axis": {"orient": "left", "values": [-10, -8, -4, -2, 2, 4, 8, 10, 14, 16], "tickSize": -4, "labels": false, "title": null}},
          "color": {"field": "b", "type": "nominal"}, "strokeDash": {"field": "b", "type": "nominal"}, "strokeWidth": {"field": "b", "type": "nominal"}
         }},
        {"transform": [{"filter": "datum.star == 'F3' && datum.line == '6173' && datum.b == '500G'"}], "mark": {"type": "line", "interpolate": "monotone"},
         "encoding": {
          "x": {"field": "deg", "type": "quantitative", "axis": {"orient": "top", "values": [30, 60, 120, 150, 210, 240, 300, 330], "tickSize": -4, "labels": false, "title": null}},
          "y": {"field": "rv", "type": "quantitative", "axis": {"orient": "right", "values": [-10, -8, -4, -2, 2, 4, 8, 10, 14, 16], "tickSize": -4, "labels": false, "title": null}},
          "color": {"field": "b", "type": "nominal"}, "strokeDash": {"field": "b", "type": "nominal"}, "strokeWidth": {"field": "b", "type": "nominal"}
         }},
        {"transform": [{"filter": "datum.star == 'F3' && datum.line == '6173' && datum.b == '0G' && datum.deg == 0"}], "mark": {"type": "text", "align": "left", "baseline": "middle", "fontSize": 17},
         "encoding": {"x": {"datum": 20, "type": "quantitative", "axis": null}, "y": {"datum": 13, "type": "quantitative", "axis": null}, "text": {"field": "star"}}}
      ],
      "resolve": {"axis": {"x": "independent", "y": "independent"}}
    },
    {
      "width": 524, "height": 156,
      "layer": [
        {"transform": [{"filter": "datum.star == 'G2' && datum.line == '6165' && datum.b == '0G'"}], "mark": {"type": "line", "interpolate": "monotone"},
         "encoding": {
          "x": {"field": "deg", "type": "quantitative", "scale": {"domain": [0, 360], "nice": false}, "axis": {"orient": "bottom", "values": [0, 90, 180, 270, 360], "tickSize": -7, "labels": false, "title": null}},
          "y": {"field": "rv", "type": "quantitative", "scale": {"domain": [-12, 18], "nice": false, "zero": false}, "axis": {"orient": "left", "values": [-6, 0, 6, 12], "tickSize": -7, "labelPadding": 14, "title": "RV [m/s]", "titlePadding": 12}},
          "color": {"field": "b", "type": "nominal", "scale": {"domain": ["0G", "20G", "100G", "500G"], "range": ["#000000", "#00ee00", "#0000ff", "#ff0000"]},
            "legend": {"title": null, "orient": "none", "legendX": 17, "legendY": 112, "columns": 2, "gridAlign": "all", "columnPadding": 93, "rowPadding": 2, "padding": 0, "symbolType": "stroke", "symbolSize": 300, "labelFontSize": 14, "labelOffset": 8, "labelExpr": "'B=' + datum.label"}},
          "strokeDash": {"field": "b", "type": "nominal", "scale": {"domain": ["0G", "20G", "100G", "500G"], "range": [[1, 0], [10, 16], [6, 6], [3.5, 7]]}, "legend": {"title": null}},
          "strokeWidth": {"field": "b", "type": "nominal", "scale": {"domain": ["0G", "20G", "100G", "500G"], "range": [3.5, 3.5, 3.5, 4]}, "legend": {"title": null}}
         }},
        {"transform": [{"filter": "datum.star == 'G2' && datum.line == '6165' && datum.b == '20G'"}], "mark": {"type": "line", "interpolate": "monotone"},
         "encoding": {
          "x": {"field": "deg", "type": "quantitative", "axis": {"orient": "top", "values": [0, 90, 180, 270, 360], "tickSize": -7, "labels": false, "title": null}},
          "y": {"field": "rv", "type": "quantitative", "axis": {"orient": "right", "values": [-6, 0, 6, 12], "tickSize": -7, "labels": false, "title": null}},
          "color": {"field": "b", "type": "nominal"}, "strokeDash": {"field": "b", "type": "nominal"}, "strokeWidth": {"field": "b", "type": "nominal"}
         }},
        {"transform": [{"filter": "datum.star == 'G2' && datum.line == '6165' && datum.b == '100G'"}], "mark": {"type": "line", "interpolate": "monotone"},
         "encoding": {
          "x": {"field": "deg", "type": "quantitative", "axis": {"orient": "bottom", "values": [30, 60, 120, 150, 210, 240, 300, 330], "tickSize": -4, "labels": false, "title": null}},
          "y": {"field": "rv", "type": "quantitative", "axis": {"orient": "left", "values": [-10, -8, -4, -2, 2, 4, 8, 10, 14, 16], "tickSize": -4, "labels": false, "title": null}},
          "color": {"field": "b", "type": "nominal"}, "strokeDash": {"field": "b", "type": "nominal"}, "strokeWidth": {"field": "b", "type": "nominal"}
         }},
        {"transform": [{"filter": "datum.star == 'G2' && datum.line == '6165' && datum.b == '500G'"}], "mark": {"type": "line", "interpolate": "monotone"},
         "encoding": {
          "x": {"field": "deg", "type": "quantitative", "axis": {"orient": "top", "values": [30, 60, 120, 150, 210, 240, 300, 330], "tickSize": -4, "labels": false, "title": null}},
          "y": {"field": "rv", "type": "quantitative", "axis": {"orient": "right", "values": [-10, -8, -4, -2, 2, 4, 8, 10, 14, 16], "tickSize": -4, "labels": false, "title": null}},
          "color": {"field": "b", "type": "nominal"}, "strokeDash": {"field": "b", "type": "nominal"}, "strokeWidth": {"field": "b", "type": "nominal"}
         }},
        {"transform": [{"filter": "datum.star == 'G2' && datum.line == '6165' && datum.b == '0G' && datum.deg == 0"}], "mark": {"type": "text", "align": "left", "baseline": "middle", "fontSize": 17},
         "encoding": {"x": {"datum": 20, "type": "quantitative", "axis": null}, "y": {"datum": 13, "type": "quantitative", "axis": null}, "text": {"field": "star"}}}
      ],
      "resolve": {"axis": {"x": "independent", "y": "independent"}}
    },
    {
      "width": 524, "height": 156,
      "layer": [
        {"transform": [{"filter": "datum.star == 'G2' && datum.line == '6165' && datum.b == '500G'"}], "mark": {"type": "line", "interpolate": "monotone"},
         "encoding": {
          "x": {"field": "deg", "type": "quantitative", "scale": {"domain": [0, 360], "nice": false}, "axis": null},
          "y": {"field": "rv", "type": "quantitative", "scale": {"domain": [-12, 18], "nice": false, "zero": false}, "axis": null},
          "color": {"datum": "500G_6165", "type": "nominal", "scale": {"domain": ["0G", "20G", "100G", "500G", "500G_6165", "note"], "range": ["#000000", "#00ee00", "#0000ff", "#ff0000", "#6e6e6e", "transparent"]},
            "legend": {"title": null, "orient": "none", "legendX": 17, "legendY": 112, "columns": 3, "gridAlign": "all", "columnPadding": 64, "rowPadding": 2, "padding": 0, "symbolType": "stroke", "symbolSize": 300, "labelFontSize": 14, "labelOffset": 8, "labelExpr": "datum.label == 'note' ? 'FeI 6165Å' : 'B=' + replace(datum.label, '_6165', '')"}},
          "strokeDash": {"datum": "500G_6165", "type": "nominal", "scale": {"domain": ["0G", "20G", "100G", "500G", "500G_6165", "note"], "range": [[1, 0], [10, 16], [6, 6], [3.5, 7], [1, 0], [1, 0]]}, "legend": {"title": null}},
          "strokeWidth": {"datum": "500G_6165", "type": "nominal", "scale": {"domain": ["0G", "20G", "100G", "500G", "500G_6165", "note"], "range": [3.5, 3.5, 3.5, 4, 2, 0]}, "legend": {"title": null}}
         }},
        {"transform": [{"filter": "datum.star == 'G2' && datum.line == '6173' && datum.b == '0G'"}], "mark": {"type": "line", "interpolate": "monotone"},
         "encoding": {
          "x": {"field": "deg", "type": "quantitative", "axis": {"orient": "bottom", "values": [0, 90, 180, 270, 360], "tickSize": -7, "labels": false, "title": null}},
          "y": {"field": "rv", "type": "quantitative", "axis": {"orient": "left", "values": [-6, 0, 6, 12], "tickSize": -7, "labelPadding": 14, "title": "RV [m/s]", "titlePadding": 12}},
          "color": {"field": "b", "type": "nominal", "legend": {"title": null}}, "strokeDash": {"field": "b", "type": "nominal", "legend": {"title": null}}, "strokeWidth": {"field": "b", "type": "nominal", "legend": {"title": null}}
         }},
        {"transform": [{"filter": "datum.star == 'G2' && datum.line == '6173' && datum.b == '20G'"}], "mark": {"type": "line", "interpolate": "monotone"},
         "encoding": {
          "x": {"field": "deg", "type": "quantitative", "axis": {"orient": "top", "values": [0, 90, 180, 270, 360], "tickSize": -7, "labels": false, "title": null}},
          "y": {"field": "rv", "type": "quantitative", "axis": {"orient": "right", "values": [-6, 0, 6, 12], "tickSize": -7, "labels": false, "title": null}},
          "color": {"field": "b", "type": "nominal"}, "strokeDash": {"field": "b", "type": "nominal"}, "strokeWidth": {"field": "b", "type": "nominal"}
         }},
        {"transform": [{"filter": "datum.star == 'G2' && datum.line == '6173' && datum.b == '100G'"}], "mark": {"type": "line", "interpolate": "monotone"},
         "encoding": {
          "x": {"field": "deg", "type": "quantitative", "axis": {"orient": "bottom", "values": [30, 60, 120, 150, 210, 240, 300, 330], "tickSize": -4, "labels": false, "title": null}},
          "y": {"field": "rv", "type": "quantitative", "axis": {"orient": "left", "values": [-10, -8, -4, -2, 2, 4, 8, 10, 14, 16], "tickSize": -4, "labels": false, "title": null}},
          "color": {"field": "b", "type": "nominal"}, "strokeDash": {"field": "b", "type": "nominal"}, "strokeWidth": {"field": "b", "type": "nominal"}
         }},
        {"transform": [{"filter": "datum.star == 'G2' && datum.line == '6173' && datum.b == '500G'"}], "mark": {"type": "line", "interpolate": "monotone"},
         "encoding": {
          "x": {"field": "deg", "type": "quantitative", "axis": {"orient": "top", "values": [30, 60, 120, 150, 210, 240, 300, 330], "tickSize": -4, "labels": false, "title": null}},
          "y": {"field": "rv", "type": "quantitative", "axis": {"orient": "right", "values": [-10, -8, -4, -2, 2, 4, 8, 10, 14, 16], "tickSize": -4, "labels": false, "title": null}},
          "color": {"field": "b", "type": "nominal"}, "strokeDash": {"field": "b", "type": "nominal"}, "strokeWidth": {"field": "b", "type": "nominal"}
         }},
        {"transform": [{"filter": "datum.star == 'G2' && datum.line == '6173' && datum.b == '0G' && datum.deg == 0"}], "mark": {"type": "text", "align": "left", "baseline": "middle", "fontSize": 17},
         "encoding": {"x": {"datum": 20, "type": "quantitative", "axis": null}, "y": {"datum": 13, "type": "quantitative", "axis": null}, "text": {"field": "star"}}}
      ],
      "resolve": {"axis": {"x": "independent", "y": "independent"}}
    },
    {
      "width": 524, "height": 156,
      "layer": [
        {"transform": [{"filter": "datum.star == 'K5' && datum.line == '6165' && datum.b == '0G'"}], "mark": {"type": "line", "interpolate": "monotone"},
         "encoding": {
          "x": {"field": "deg", "type": "quantitative", "scale": {"domain": [0, 360], "nice": false}, "axis": {"orient": "bottom", "values": [0, 90, 180, 270, 360], "tickSize": -7, "labelPadding": 12, "title": "rotation angle [deg]", "titlePadding": 6}},
          "y": {"field": "rv", "type": "quantitative", "scale": {"domain": [-12, 18], "nice": false, "zero": false}, "axis": {"orient": "left", "values": [-6, 0, 6, 12], "tickSize": -7, "labelPadding": 14, "title": "RV [m/s]", "titlePadding": 12}},
          "color": {"field": "b", "type": "nominal", "scale": {"domain": ["0G", "20G", "100G", "500G"], "range": ["#000000", "#00ee00", "#0000ff", "#ff0000"]},
            "legend": {"title": null, "orient": "none", "legendX": 17, "legendY": 112, "columns": 2, "gridAlign": "all", "columnPadding": 93, "rowPadding": 2, "padding": 0, "symbolType": "stroke", "symbolSize": 300, "labelFontSize": 14, "labelOffset": 8, "labelExpr": "'B=' + datum.label"}},
          "strokeDash": {"field": "b", "type": "nominal", "scale": {"domain": ["0G", "20G", "100G", "500G"], "range": [[1, 0], [10, 16], [6, 6], [3.5, 7]]}, "legend": {"title": null}},
          "strokeWidth": {"field": "b", "type": "nominal", "scale": {"domain": ["0G", "20G", "100G", "500G"], "range": [3.5, 3.5, 3.5, 4]}, "legend": {"title": null}}
         }},
        {"transform": [{"filter": "datum.star == 'K5' && datum.line == '6165' && datum.b == '20G'"}], "mark": {"type": "line", "interpolate": "monotone"},
         "encoding": {
          "x": {"field": "deg", "type": "quantitative", "axis": {"orient": "top", "values": [0, 90, 180, 270, 360], "tickSize": -7, "labels": false, "title": null}},
          "y": {"field": "rv", "type": "quantitative", "axis": {"orient": "right", "values": [-6, 0, 6, 12], "tickSize": -7, "labels": false, "title": null}},
          "color": {"field": "b", "type": "nominal"}, "strokeDash": {"field": "b", "type": "nominal"}, "strokeWidth": {"field": "b", "type": "nominal"}
         }},
        {"transform": [{"filter": "datum.star == 'K5' && datum.line == '6165' && datum.b == '100G'"}], "mark": {"type": "line", "interpolate": "monotone"},
         "encoding": {
          "x": {"field": "deg", "type": "quantitative", "axis": {"orient": "bottom", "values": [30, 60, 120, 150, 210, 240, 300, 330], "tickSize": -4, "labels": false, "title": null}},
          "y": {"field": "rv", "type": "quantitative", "axis": {"orient": "left", "values": [-10, -8, -4, -2, 2, 4, 8, 10, 14, 16], "tickSize": -4, "labels": false, "title": null}},
          "color": {"field": "b", "type": "nominal"}, "strokeDash": {"field": "b", "type": "nominal"}, "strokeWidth": {"field": "b", "type": "nominal"}
         }},
        {"transform": [{"filter": "datum.star == 'K5' && datum.line == '6165' && datum.b == '500G'"}], "mark": {"type": "line", "interpolate": "monotone"},
         "encoding": {
          "x": {"field": "deg", "type": "quantitative", "axis": {"orient": "top", "values": [30, 60, 120, 150, 210, 240, 300, 330], "tickSize": -4, "labels": false, "title": null}},
          "y": {"field": "rv", "type": "quantitative", "axis": {"orient": "right", "values": [-10, -8, -4, -2, 2, 4, 8, 10, 14, 16], "tickSize": -4, "labels": false, "title": null}},
          "color": {"field": "b", "type": "nominal"}, "strokeDash": {"field": "b", "type": "nominal"}, "strokeWidth": {"field": "b", "type": "nominal"}
         }},
        {"transform": [{"filter": "datum.star == 'K5' && datum.line == '6165' && datum.b == '0G' && datum.deg == 0"}], "mark": {"type": "text", "align": "left", "baseline": "middle", "fontSize": 17},
         "encoding": {"x": {"datum": 20, "type": "quantitative", "axis": null}, "y": {"datum": 13, "type": "quantitative", "axis": null}, "text": {"field": "star"}}}
      ],
      "resolve": {"axis": {"x": "independent", "y": "independent"}}
    },
    {
      "width": 524, "height": 156,
      "layer": [
        {"transform": [{"filter": "datum.star == 'K5' && datum.line == '6165' && datum.b == '500G'"}], "mark": {"type": "line", "interpolate": "monotone"},
         "encoding": {
          "x": {"field": "deg", "type": "quantitative", "scale": {"domain": [0, 360], "nice": false}, "axis": null},
          "y": {"field": "rv", "type": "quantitative", "scale": {"domain": [-12, 18], "nice": false, "zero": false}, "axis": null},
          "color": {"datum": "500G_6165", "type": "nominal", "scale": {"domain": ["0G", "20G", "100G", "500G", "500G_6165", "note"], "range": ["#000000", "#00ee00", "#0000ff", "#ff0000", "#6e6e6e", "transparent"]},
            "legend": {"title": null, "orient": "none", "legendX": 17, "legendY": 112, "columns": 3, "gridAlign": "all", "columnPadding": 64, "rowPadding": 2, "padding": 0, "symbolType": "stroke", "symbolSize": 300, "labelFontSize": 14, "labelOffset": 8, "labelExpr": "datum.label == 'note' ? 'FeI 6165Å' : 'B=' + replace(datum.label, '_6165', '')"}},
          "strokeDash": {"datum": "500G_6165", "type": "nominal", "scale": {"domain": ["0G", "20G", "100G", "500G", "500G_6165", "note"], "range": [[1, 0], [10, 16], [6, 6], [3.5, 7], [1, 0], [1, 0]]}, "legend": {"title": null}},
          "strokeWidth": {"datum": "500G_6165", "type": "nominal", "scale": {"domain": ["0G", "20G", "100G", "500G", "500G_6165", "note"], "range": [3.5, 3.5, 3.5, 4, 2, 0]}, "legend": {"title": null}}
         }},
        {"transform": [{"filter": "datum.star == 'K5' && datum.line == '6173' && datum.b == '0G'"}], "mark": {"type": "line", "interpolate": "monotone"},
         "encoding": {
          "x": {"field": "deg", "type": "quantitative", "axis": {"orient": "bottom", "values": [0, 90, 180, 270, 360], "tickSize": -7, "labelPadding": 12, "title": "rotation angle [deg]", "titlePadding": 6}},
          "y": {"field": "rv", "type": "quantitative", "axis": {"orient": "left", "values": [-6, 0, 6, 12], "tickSize": -7, "labelPadding": 14, "title": "RV [m/s]", "titlePadding": 12}},
          "color": {"field": "b", "type": "nominal", "legend": {"title": null}}, "strokeDash": {"field": "b", "type": "nominal", "legend": {"title": null}}, "strokeWidth": {"field": "b", "type": "nominal", "legend": {"title": null}}
         }},
        {"transform": [{"filter": "datum.star == 'K5' && datum.line == '6173' && datum.b == '20G'"}], "mark": {"type": "line", "interpolate": "monotone"},
         "encoding": {
          "x": {"field": "deg", "type": "quantitative", "axis": {"orient": "top", "values": [0, 90, 180, 270, 360], "tickSize": -7, "labels": false, "title": null}},
          "y": {"field": "rv", "type": "quantitative", "axis": {"orient": "right", "values": [-6, 0, 6, 12], "tickSize": -7, "labels": false, "title": null}},
          "color": {"field": "b", "type": "nominal"}, "strokeDash": {"field": "b", "type": "nominal"}, "strokeWidth": {"field": "b", "type": "nominal"}
         }},
        {"transform": [{"filter": "datum.star == 'K5' && datum.line == '6173' && datum.b == '100G'"}], "mark": {"type": "line", "interpolate": "monotone"},
         "encoding": {
          "x": {"field": "deg", "type": "quantitative", "axis": {"orient": "bottom", "values": [30, 60, 120, 150, 210, 240, 300, 330], "tickSize": -4, "labels": false, "title": null}},
          "y": {"field": "rv", "type": "quantitative", "axis": {"orient": "left", "values": [-10, -8, -4, -2, 2, 4, 8, 10, 14, 16], "tickSize": -4, "labels": false, "title": null}},
          "color": {"field": "b", "type": "nominal"}, "strokeDash": {"field": "b", "type": "nominal"}, "strokeWidth": {"field": "b", "type": "nominal"}
         }},
        {"transform": [{"filter": "datum.star == 'K5' && datum.line == '6173' && datum.b == '500G'"}], "mark": {"type": "line", "interpolate": "monotone"},
         "encoding": {
          "x": {"field": "deg", "type": "quantitative", "axis": {"orient": "top", "values": [30, 60, 120, 150, 210, 240, 300, 330], "tickSize": -4, "labels": false, "title": null}},
          "y": {"field": "rv", "type": "quantitative", "axis": {"orient": "right", "values": [-10, -8, -4, -2, 2, 4, 8, 10, 14, 16], "tickSize": -4, "labels": false, "title": null}},
          "color": {"field": "b", "type": "nominal"}, "strokeDash": {"field": "b", "type": "nominal"}, "strokeWidth": {"field": "b", "type": "nominal"}
         }},
        {"transform": [{"filter": "datum.star == 'K5' && datum.line == '6173' && datum.b == '0G' && datum.deg == 0"}], "mark": {"type": "text", "align": "left", "baseline": "middle", "fontSize": 17},
         "encoding": {"x": {"datum": 20, "type": "quantitative", "axis": null}, "y": {"datum": 13, "type": "quantitative", "axis": null}, "text": {"field": "star"}}}
      ],
      "resolve": {"axis": {"x": "independent", "y": "independent"}}
    }
  ],
  "resolve": {"scale": {"color": "independent", "strokeDash": "independent", "strokeWidth": "independent"}},
  "config": {
    "font": "Liberation Sans",
    "view": {"stroke": "#000000", "strokeWidth": 2},
    "title": {"fontSize": 16, "fontWeight": "normal", "color": "#000000", "offset": 8},
    "axis": {"domain": false, "grid": false, "tickColor": "#000000", "tickWidth": 1.5, "labelFontSize": 15, "labelColor": "#000000", "labelFlush": false, "labelOverlap": false, "titleFontSize": 16, "titleFontWeight": "normal", "titleColor": "#000000"},
    "legend": {"labelColor": "#000000"},
    "text": {"color": "#000000"}
  }
}
